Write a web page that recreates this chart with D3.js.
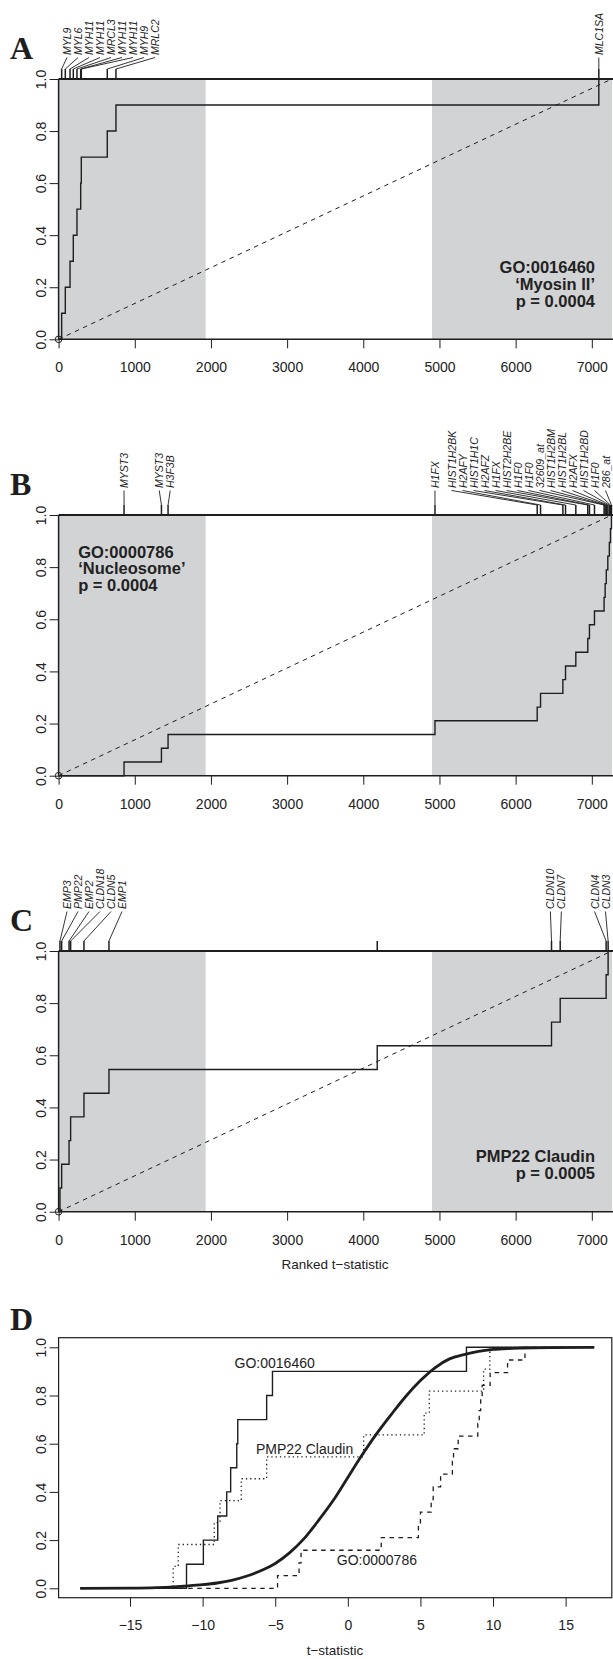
<!DOCTYPE html>
<html><head><meta charset="utf-8">
<script src="https://cdn.jsdelivr.net/npm/d3@7"></script>
<style>body{margin:0;background:#fff}svg{display:block}</style>
</head><body>
<script>
// ---------------- data ----------------
const nGenes = 7262;                       // number of ranked genes
const rankTicks = [0,1000,2000,3000,4000,5000,6000,7000];
const propTicks = [0,0.2,0.4,0.6,0.8,1.0];
const shadeLow = [0,1930];
const shadeHigh = [4902,7265];

// Panel A  GO:0016460 'Myosin II'
const genesA = ["MYL9","MYL6","MYH11","MYH11","MRCL3","MYH11","MYH11","MYH9","MRLC2","MLC1SA"];
const ranksA = [40,88,150,193,241,290,298,639,753,7092];
const textA = ["GO:0016460","\u2018Myosin II\u2019","p = 0.0004"];

// Panel B  GO:0000786 'Nucleosome'
const genesB = ["MYST3","MYST3","H3F3B","H1FX","HIST1H2BK","H2AFY","HIST1H1C","H2AFZ","H1FX","HIST2H2BE",
                "H1F0","H1F0","32609_at","HIST1H2BM","HIST1H2BL","H2AFX","HIST1H2BD","H1F0","286_at"];
const ranksB = [859,1350,1437,4941,6283,6327,6620,6655,6790,6947,6969,7035,7161,7175,7190,7210,7230,7245,7258];
const textB = ["GO:0000786","\u2018Nucleosome\u2019","p = 0.0004"];

// Panel C  PMP22 Claudin
const genesC = ["EMP3","PMP22","EMP2","CLDN18","CLDN5","EMP1","","CLDN10","CLDN7","CLDN4","CLDN3"];
const ranksC = [18,40,137,158,333,661,4183,6471,6585,7188,7214];
const textC = ["PMP22 Claudin","p = 0.0005"];

// Panel D  t-statistic distributions
const tTicks = [-15,-10,-5,0,5,10,15];
const allT = [-18.43,-15,-13.2,-12,-11,-10,-9,-8,-7,-6,-5,-4,-3,-2,-1,0,1,2,3,4,5,6,7,8,9,10,11,12,14,16.97];
const allF = [0,0.001,0.003,0.006,0.01,0.015,0.022,0.033,0.05,0.073,0.103,0.148,0.207,0.283,0.365,0.46,
              0.555,0.643,0.722,0.797,0.862,0.915,0.952,0.97,0.983,0.991,0.995,0.997,0.999,1.0];
const tMyosin = [-11.11,-9.95,-8.96,-8.34,-8.07,-7.65,-7.58,-5.59,-5.19,8.17];
const tClaudin = [-12.03,-11.68,-9.2,-8.8,-7.34,-5.59,1.09,5.26,5.61,9.35,9.78];
const tNucleo = [-4.84,-3.36,-3.22,2.30,4.86,5.00,5.74,5.88,6.39,7.20,7.28,7.60,8.95,9.05,9.15,9.25,9.80,11.0,12.2];

// ---------------- drawing ----------------
const W = 613, H = 1659;
const FONT = "'Liberation Sans', Arial, Helvetica, sans-serif";
const INK = "#1e1e1e";
const svg = d3.select("body").append("svg").attr("width", W).attr("height", H)
  .style("font-family", FONT);

const xR = d3.scaleLinear().domain([0, 7265]).range([58.6, 612]);

function spread(xs, gap, lo, hi) {
  const order = xs.map((x,i)=>i).sort((a,b)=>xs[a]-xs[b]);
  let cl = order.map(i=>({idx:[i]}));
  const place = c => {
    const n = c.idx.length;
    let s = d3.mean(c.idx, i=>xs[i]) - (n-1)*gap/2;
    s = Math.max(lo, Math.min(hi-(n-1)*gap, s));
    c.start = s; c.end = s+(n-1)*gap;
  };
  cl.forEach(place);
  let changed = true;
  while (changed) {
    changed = false;
    for (let i=0;i<cl.length-1;i++) {
      if (cl[i].end + gap > cl[i+1].start + 1e-6) {
        cl[i].idx = cl[i].idx.concat(cl[i+1].idx);
        cl.splice(i+1,1); place(cl[i]); changed = true; break;
      }
    }
  }
  const out = [];
  cl.forEach(c=>c.idx.forEach((k,j)=>out[k]=c.start+j*gap));
  return out;
}

function rankPanel(cfg) {
  const g = svg.append("g");
  const y = d3.scaleLinear().domain([0,1]).range([cfg.y0, cfg.y1]);
  // shading
  [shadeLow, shadeHigh].forEach(s=>{
    g.append("rect").attr("x", xR(s[0])).attr("width", xR(s[1])-xR(s[0]))
      .attr("y", y(1)).attr("height", y(0)-y(1)).attr("fill", "#d2d3d5");
  });
  // diagonal
  g.append("line").attr("x1", xR(0)).attr("y1", y(0)).attr("x2", xR(nGenes)).attr("y2", y(1))
    .attr("stroke", INK).attr("stroke-width", 1).attr("stroke-dasharray", "4.5,4.5");
  // step curve
  const n = cfg.ranks.length;
  const pts = [[0,0]].concat(cfg.ranks.map((r,i)=>[r,(i+1)/n])).concat([[nGenes,1]]);
  g.append("path").attr("d", d3.line().x(d=>xR(d[0])).y(d=>y(d[1])).curve(d3.curveStepAfter)(pts))
    .attr("fill","none").attr("stroke", INK).attr("stroke-width", 1.4);
  // top line
  g.append("line").attr("x1", xR(0)).attr("x2", W).attr("y1", y(1)).attr("y2", y(1))
    .attr("stroke", INK).attr("stroke-width", 2);
  // left axis line and bottom line
  g.append("line").attr("x1", xR(0)).attr("x2", xR(0)).attr("y1", y(0)).attr("y2", y(1))
    .attr("stroke", INK).attr("stroke-width", 1.5);
  g.append("line").attr("x1", xR(0)).attr("x2", W).attr("y1", y(0)).attr("y2", y(0))
    .attr("stroke", INK).attr("stroke-width", 1.5);
  g.append("circle").attr("cx", xR(0)).attr("cy", y(0)).attr("r", 3.3)
    .attr("fill","none").attr("stroke", INK).attr("stroke-width", 1);
  // x axis
  const xa = g.append("g").attr("transform", `translate(0,${y(0)})`)
    .call(d3.axisBottom(xR).tickValues(rankTicks).tickFormat(d3.format("d")).tickSize(9).tickSizeOuter(0));
  styleAxis(xa);
  xa.selectAll("text").attr("y", 33).attr("dy", null);
  // y axis
  const ya = g.append("g").attr("transform", `translate(${xR(0)},0)`)
    .call(d3.axisLeft(y).tickValues(propTicks).tickFormat(d3.format(".1f")).tickSize(9).tickSizeOuter(0));
  styleAxis(ya);
  ya.selectAll(".tick text").attr("x", null).attr("dy", null)
    .attr("transform", "translate(-17.3,0) rotate(-90)").attr("text-anchor","middle")
    .attr("dominant-baseline","central");
  // gene ticks and labels
  const lab = cfg.genes.map((s,i)=>({s, x:xR(cfg.ranks[i])}));
  const named = lab.filter(d=>d.s !== "");
  const pos = spread(named.map(d=>d.x), 11, 67, 605.5);
  named.forEach((d,i)=>d.lx = pos[i]);
  const top = y(1);
  lab.forEach(d=>{
    g.append("line").attr("x1", d.x).attr("x2", d.x).attr("y1", top).attr("y2", top-10)
      .attr("stroke", INK).attr("stroke-width", 1.5);
  });
  named.forEach(d=>{
    g.append("line").attr("x1", d.x).attr("y1", top-10).attr("x2", d.lx).attr("y2", top-cfg.labBase+2.5)
      .attr("stroke", INK).attr("stroke-width", 0.9);
    g.append("text").attr("transform", `translate(${d.lx},${top-cfg.labBase}) rotate(-90)`)
      .attr("text-anchor","start").attr("dominant-baseline","central")
      .attr("font-size", 10.5).attr("font-style","italic").attr("fill", INK).text(d.s);
  });
  // panel letter
  svg.append("text").attr("x", 10).attr("y", top-20.5).text(cfg.letter)
    .attr("font-family","'Liberation Serif','Times New Roman',serif").attr("font-weight","bold")
    .attr("font-size", 32).attr("fill", INK);
  // annotation
  cfg.text.forEach((t,i)=>{
    g.append("text").attr("x", cfg.tx).attr("y", cfg.ty(y) + i*16.7)
      .attr("text-anchor", cfg.anchor).attr("font-weight","bold").attr("font-size", 16.5)
      .attr("fill", "#222").text(t);
  });
  return y;
}

function styleAxis(a) {
  a.select(".domain").remove();
  a.selectAll(".tick line").attr("stroke", INK).attr("stroke-width", 1);
  a.selectAll("text").attr("font-size", 14).attr("fill", "#222").attr("font-family", FONT);
}

rankPanel({letter:"A", y1:79, y0:339.3, genes:genesA, ranks:ranksA, labBase:24,
  text:textA, tx:595, anchor:"end", ty:y=>y(0)-66});
rankPanel({letter:"B", y1:515, y0:775.7, genes:genesB, ranks:ranksB, labBase:27,
  text:textB, tx:78.2, anchor:"start", ty:y=>y(1)+42.5});
const yC = rankPanel({letter:"C", y1:951, y0:1211.7, genes:genesC, ranks:ranksC, labBase:42,
  text:textC, tx:595, anchor:"end", ty:y=>y(0)-49.3});

svg.append("text").attr("x", 335).attr("y", 1269).attr("text-anchor","middle")
  .attr("font-size", 13.5).attr("fill","#222").text("Ranked t\u2212statistic");

// ---------------- panel D ----------------
const boxTop = 1337.7, boxBot = 1597.7;
const xT = d3.scaleLinear().domain([-19.92, 18.18]).range([58.6, 611.8]);
const yD = d3.scaleLinear().domain([0,1]).range([1588.3, 1347.3]);
const gD = svg.append("g");
const tMin = allT[0], tMax = allT[allT.length-1];

function ecdf(ts) {
  const n = ts.length;
  return [[tMin,0]].concat(ts.map((t,i)=>[t,(i+1)/n])).concat([[tMax,1]]);
}
const stepLine = d3.line().x(d=>xT(d[0])).y(d=>yD(d[1])).curve(d3.curveStepAfter);
gD.append("path").attr("d", stepLine(ecdf(tNucleo))).attr("fill","none")
  .attr("stroke", INK).attr("stroke-width", 1.3).attr("stroke-dasharray","4.5,4.5");
gD.append("path").attr("d", stepLine(ecdf(tClaudin))).attr("fill","none")
  .attr("stroke", INK).attr("stroke-width", 1.3).attr("stroke-dasharray","1.3,3");
gD.append("path").attr("d", stepLine(ecdf(tMyosin))).attr("fill","none")
  .attr("stroke", INK).attr("stroke-width", 1.4);
gD.append("path").attr("d", d3.line().x((d,i)=>xT(allT[i])).y(d=>yD(d)).curve(d3.curveMonotoneX)(allF))
  .attr("fill","none").attr("stroke", INK).attr("stroke-width", 2.8);

gD.append("rect").attr("x", xT.range()[0]).attr("y", boxTop)
  .attr("width", xT.range()[1]-xT.range()[0]).attr("height", boxBot-boxTop)
  .attr("fill","none").attr("stroke", INK).attr("stroke-width", 1.2);

const xaD = gD.append("g").attr("transform", `translate(0,${boxBot})`)
  .call(d3.axisBottom(xT).tickValues(tTicks).tickSize(9).tickSizeOuter(0));
styleAxis(xaD);
xaD.selectAll("text").attr("y", 32).attr("dy", null);
const yaD = gD.append("g").attr("transform", `translate(${xT.range()[0]},0)`)
  .call(d3.axisLeft(yD).tickValues(propTicks).tickFormat(d3.format(".1f")).tickSize(9).tickSizeOuter(0));
styleAxis(yaD);
yaD.selectAll(".tick text").attr("x", null).attr("dy", null)
  .attr("transform", "translate(-17.6,0) rotate(-90)").attr("text-anchor","middle")
  .attr("dominant-baseline","central");

const labelsD = [
  {s:"GO:0016460", t:-5.04, f:0.914},
  {s:"PMP22 Claudin", t:-2.98, f:0.557},
  {s:"GO:0000786", t:2.0, f:0.095}
];
labelsD.forEach(d=>{
  gD.append("text").attr("x", xT(d.t)).attr("y", yD(d.f)).attr("text-anchor","middle")
    .attr("font-size", 14).attr("fill","#222").text(d.s);
});
svg.append("text").attr("x", 335).attr("y", 1655).attr("text-anchor","middle")
  .attr("font-size", 13.5).attr("fill","#222").text("t\u2212statistic");
svg.append("text").attr("x", 10).attr("y", 1330).text("D")
  .attr("font-family","'Liberation Serif','Times New Roman',serif").attr("font-weight","bold")
  .attr("font-size", 32).attr("fill", INK);
</script>
</body></html>
